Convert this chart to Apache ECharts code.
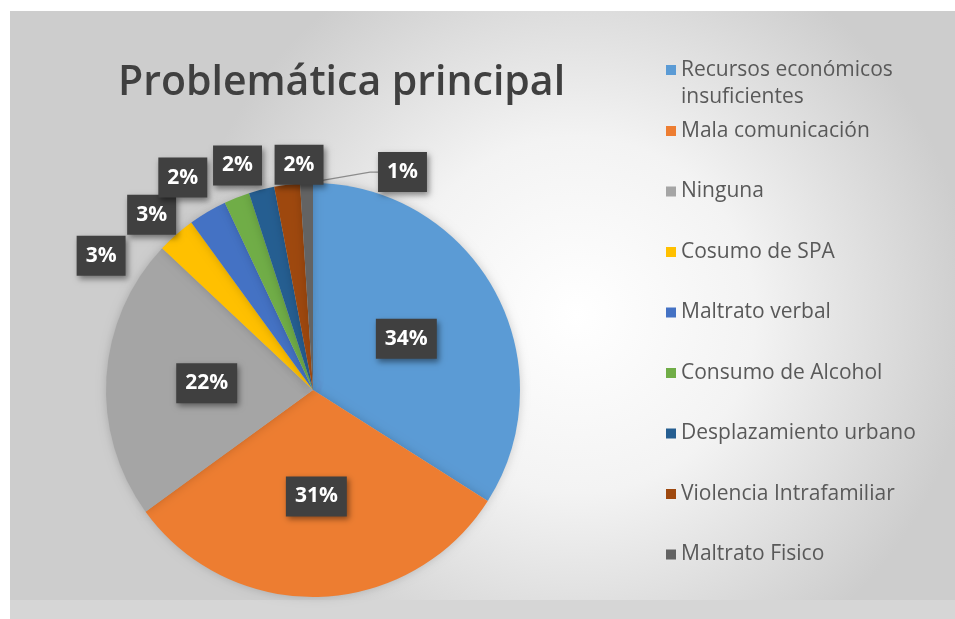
<!DOCTYPE html>
<html>
<head>
<meta charset="utf-8">
<script src="https://cdn.jsdelivr.net/npm/echarts@6/dist/echarts.min.js"></script>
<style>
html,body{margin:0;padding:0;background:#fff;}
#main{width:955px;height:619px;}
</style>
</head>
<body>
<div id="main"></div>
<script>
const categories = [
  'Recursos económicos insuficientes',
  'Mala comunicación',
  'Ninguna',
  'Cosumo de SPA',
  'Maltrato verbal',
  'Consumo de Alcohol',
  'Desplazamiento urbano',
  'Violencia Intrafamiliar',
  'Maltrato Fisico'
];
const percentages = [34, 31, 22, 3, 3, 2, 2, 2, 1];
const colors = ['#5B9BD5', '#ED7D31', '#A5A5A5', '#FFC000', '#4472C4', '#70AD47', '#255E91', '#9E480E', '#636363'];
const titleText = 'Problemática principal';

// layout constants (not data)
const PIE_CX = 313, PIE_CY = 390, PIE_R = 207;
// nudges of the small outside labels away from their slice's outer edge (px)
const outsideLabelNudge = {
  3: [-75, 21],
  4: [-56, 3],
  5: [-54, -20],
  6: [-24, -24],
  7: [12, -20],
  8: [96, -11]
};

const chart = echarts.init(document.getElementById('main'));

const labelBox = {
  color: '#ffffff',
  fontFamily: 'Open Sans',
  fontWeight: 'bold',
  fontSize: 21,
  lineHeight: 24,
  backgroundColor: '#404040',
  padding: [8, 9],
  shadowColor: 'rgba(0,0,0,0.45)',
  shadowBlur: 6,
  shadowOffsetX: 2,
  shadowOffsetY: 3,
  formatter: '{c}%'
};

const total = percentages.reduce((a, b) => a + b, 0);
const midAngles = [];
let acc = 0;
percentages.forEach(v => { midAngles.push((acc + v / 2) / total * 2 * Math.PI); acc += v; });

const pieData = categories.map((name, i) => {
  const inside = percentages[i] >= 10;
  const last = i === categories.length - 1;
  return {
    name: name,
    value: percentages[i],
    label: Object.assign({}, labelBox, { position: inside ? 'inside' : 'outside' }),
    labelLine: { show: last, lineStyle: { color: '#8c8c8c', width: 1.2 } }
  };
});

const legendIconFirst = 'path://M0,0L10,0L10,10L0,10Z M0,37L0.01,37';

const legendText = {
  fontFamily: 'Open Sans',
  fontSize: 21,
  lineHeight: 27,
  color: '#595959'
};

const option = {
  animation: false,
  color: colors,
  graphic: [
    {
      type: 'rect',
      z: -10,
      shape: { x: 10, y: 11, width: 945, height: 608 },
      style: {
        fill: {
          type: 'radial', x: 0.6, y: 0.5, r: 0.65,
          colorStops: [
            { offset: 0, color: '#ffffff' },
            { offset: 0.45, color: '#f3f3f3' },
            { offset: 1, color: '#cdcdcd' }
          ]
        }
      },
      silent: true
    },
    {
      type: 'rect',
      z: -9,
      shape: { x: 10, y: 600, width: 945, height: 19 },
      style: { fill: '#d6d6d6' },
      silent: true
    }
  ],
  title: {
    text: titleText,
    left: 113,
    top: 58,
    textStyle: {
      fontFamily: 'Open Sans',
      fontWeight: 600,
      fontSize: 41,
      color: '#404040'
    }
  },
  legend: [
    {
      orient: 'vertical',
      left: 661,
      top: 51.5,
      icon: legendIconFirst,
      itemWidth: 10,
      itemHeight: 37,
      data: [categories[0]],
      formatter: function (name) {
        return name.replace('económicos ', 'económicos\n');
      },
      textStyle: legendText
    },
    {
      orient: 'vertical',
      left: 661,
      top: 112.5,
      icon: 'rect',
      itemWidth: 10,
      itemHeight: 10,
      itemGap: 33.5,
      data: categories.slice(1),
      textStyle: legendText
    }
  ],
  series: [{
    type: 'pie',
    center: [PIE_CX, PIE_CY],
    radius: PIE_R,
    startAngle: 90,
    clockwise: true,
    avoidLabelOverlap: false,
    labelLine: { length: 15, length2: 8 },
    itemStyle: {
      shadowColor: 'rgba(0,0,0,0.18)',
      shadowBlur: 10
    },
    labelLayout: function (params) {
      const nudge = outsideLabelNudge[params.dataIndex];
      if (!nudge) return {};
      const a = midAngles[params.dataIndex];
      const ax = PIE_CX + PIE_R * Math.sin(a);
      const ay = PIE_CY - PIE_R * Math.cos(a);
      return {
        x: ax + nudge[0],
        y: ay + nudge[1],
        align: 'center',
        verticalAlign: 'middle',
        hideOverlap: false,
        moveOverlap: null
      };
    },
    data: pieData
  }]
};

chart.setOption(option);
</script>
</body>
</html>
